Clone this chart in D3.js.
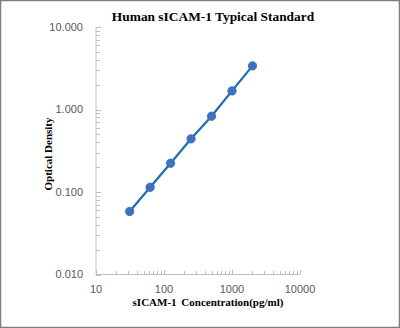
<!DOCTYPE html>
<html>
<head>
<meta charset="utf-8">
<script src="https://cdn.jsdelivr.net/npm/d3@7"></script>
<style>
  html, body { margin: 0; padding: 0; background: #fff; }
  svg { display: block; }
</style>
</head>
<body>
<svg id="chart" width="400" height="328"></svg>
<script>
// Standard curve: concentration (pg/ml) vs optical density
const concentrations = [31.25, 62.5, 125, 250, 500, 1000, 2000];
const odValues = [0.058, 0.114, 0.223, 0.441, 0.83, 1.68, 3.38];
const xTickValues = [10, 100, 1000, 10000];
const yTickValues = [0.01, 0.1, 1, 10];

const svg = d3.select("#chart");
const W = 400, H = 328;

// outer frame
svg.append("rect")
  .attr("x", 0.5).attr("y", 0.5)
  .attr("width", W - 1).attr("height", H - 1)
  .attr("fill", "#fff").attr("stroke", "#7f7f7f").attr("stroke-width", 1.5);

const x = d3.scaleLog().domain([10, 10000]).range([96, 300]);
const y = d3.scaleLog().domain([0.01, 10]).range([274.5, 27]);

const axisColor = "#bfbfbf";
const labelColor = "#595959";

// minor ticks (2..9 of each decade), drawn inside the plot
function minorTicks(lo, hi) {
  const out = [];
  for (let d = lo; d < hi; d *= 10) {
    for (let k = 2; k <= 9; k++) out.push(d * k);
  }
  return out;
}

const g = svg.append("g");

// y axis line and ticks
g.append("line")
  .attr("x1", 96).attr("x2", 96)
  .attr("y1", y(10)).attr("y2", y(0.01))
  .attr("stroke", axisColor).attr("stroke-width", 1);
g.selectAll(".yminor").data(minorTicks(0.01, 10)).enter().append("line")
  .attr("x1", 96).attr("x2", 100)
  .attr("y1", d => Math.round(y(d)) + 0.5).attr("y2", d => Math.round(y(d)) + 0.5)
  .attr("stroke", axisColor);
g.selectAll(".ymajor").data(yTickValues).enter().append("line")
  .attr("x1", 96).attr("x2", 101)
  .attr("y1", d => Math.round(y(d)) + 0.5).attr("y2", d => Math.round(y(d)) + 0.5)
  .attr("stroke", axisColor);
g.selectAll(".ylabel").data(yTickValues).enter().append("text")
  .attr("x", 83).attr("y", d => y(d))
  .attr("dy", "0.35em")
  .attr("text-anchor", "end")
  .attr("font-family", "Liberation Sans, Arial, sans-serif")
  .attr("font-size", 11)
  .attr("fill", labelColor)
  .text(d => d3.format(".3f")(d));

// x axis line and ticks
g.append("line")
  .attr("x1", x(10)).attr("x2", x(10000))
  .attr("y1", 274.5).attr("y2", 274.5)
  .attr("stroke", axisColor).attr("stroke-width", 1);
g.selectAll(".xminor").data(minorTicks(10, 10000)).enter().append("line")
  .attr("x1", d => Math.round(x(d)) + 0.5).attr("x2", d => Math.round(x(d)) + 0.5)
  .attr("y1", 274.5).attr("y2", 271)
  .attr("stroke", axisColor);
g.selectAll(".xmajor").data(xTickValues).enter().append("line")
  .attr("x1", d => Math.round(x(d)) + 0.5).attr("x2", d => Math.round(x(d)) + 0.5)
  .attr("y1", 274.5).attr("y2", 270)
  .attr("stroke", axisColor);
g.selectAll(".xlabel").data(xTickValues).enter().append("text")
  .attr("x", d => x(d)).attr("y", 293)
  .attr("text-anchor", "middle")
  .attr("font-family", "Liberation Sans, Arial, sans-serif")
  .attr("font-size", 11)
  .attr("fill", labelColor)
  .text(d => d);

// data line and markers
const pts = concentrations.map((c, i) => [c, odValues[i]]);
g.append("path")
  .datum(pts)
  .attr("fill", "none")
  .attr("stroke", "#1f6db5")
  .attr("stroke-width", 2.25)
  .attr("d", d3.line().x(d => x(d[0])).y(d => y(d[1])));
g.selectAll(".pt").data(pts).enter().append("circle")
  .attr("cx", d => x(d[0])).attr("cy", d => y(d[1]))
  .attr("r", 4.2)
  .attr("fill", "#3f72c0")
  .attr("stroke", "#3a6ab5").attr("stroke-width", 0.8);

// titles
svg.append("text")
  .attr("x", 213).attr("y", 21)
  .attr("text-anchor", "middle")
  .attr("font-family", "Liberation Serif, Times New Roman, serif")
  .attr("font-weight", "bold")
  .attr("font-size", 13.4)
  .attr("fill", "#000")
  .text("Human sICAM-1 Typical Standard");

svg.append("text")
  .attr("x", 208).attr("y", 306)
  .attr("text-anchor", "middle")
  .attr("font-family", "Liberation Serif, Times New Roman, serif")
  .attr("font-weight", "bold")
  .attr("font-size", 11)
  .attr("fill", "#000")
  .attr("word-spacing", 2)
  .text("sICAM-1 Concentration(pg/ml)");

svg.append("text")
  .attr("transform", "translate(52,154) rotate(-90)")
  .attr("text-anchor", "middle")
  .attr("font-family", "Liberation Serif, Times New Roman, serif")
  .attr("font-weight", "bold")
  .attr("font-size", 11)
  .attr("fill", "#000")
  .text("Optical Density");
</script>
</body>
</html>
